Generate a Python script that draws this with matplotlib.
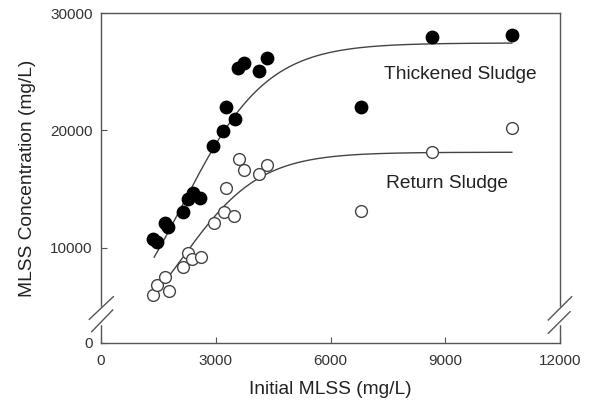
import numpy as np
import matplotlib
matplotlib.use("Agg")
import matplotlib.pyplot as plt

plt.rcParams['font.family'] = ['Liberation Sans', 'DejaVu Sans']

# --- data ---
thick_x = [1365, 1453, 1670, 1757, 2132, 2280, 2410, 2600, 2930, 3190,
           3260, 3500, 3585, 3730, 4130, 4350, 6800, 8660, 10740]
thick_y = [10740, 10540, 12150, 11810, 13060, 14140, 14650, 14230, 18710, 19980,
           22020, 21000, 25340, 25770, 25090, 26140, 22020, 27930, 28150]

return_x = [1365, 1453, 1670, 1775, 2150, 2280, 2385, 2610, 2950, 3220,
            3280, 3480, 3600, 3730, 4130, 4350, 6800, 8660, 10740]
return_y = [6000, 6850, 7560, 6340, 8410, 9600, 9040, 9210, 12100, 13040,
            15130, 12720, 17550, 16640, 16300, 17060, 13190, 18200, 20240]

# sigmoid fit parameters (a, x0, b) estimated from the drawn curves
thick_fit = (27450, 2140, 1100)
return_fit = (18150, 2110, 1020)
fit_range = (1390, 10740)

x_ticks = [0, 3000, 6000, 9000, 12000]
y_ticks = [1915, 10000, 20000, 30000]
y_ticklabels = ['0', '10000', '20000', '30000']


def sigmoid(x, p):
    a, x0, b = p
    return a / (1 + np.exp(-(x - x0) / b))


fig = plt.figure(figsize=(5.89, 4.09), dpi=100)
ax = fig.add_axes([0.1715, 0.1614, 0.7793, 0.8068])

xs = np.linspace(fit_range[0], fit_range[1], 300)
ax.plot(xs, sigmoid(xs, thick_fit), color='#444444', lw=1.0, zorder=2)
ax.plot(xs, sigmoid(xs, return_fit), color='#444444', lw=1.0, zorder=2)

ax.scatter(thick_x, thick_y, s=80, c='black', edgecolors='black', zorder=3)
ax.scatter(return_x, return_y, s=72, facecolors='white', edgecolors='#444444',
           linewidths=1.0, zorder=3)

ax.text(9400, 24800, 'Thickened Sludge', fontsize=13.8, ha='center', va='center', color='#222222')
ax.text(9050, 15500, 'Return Sludge', fontsize=13.8, ha='center', va='center', color='#222222')

ax.set_xlim(0, 12000)
ax.set_ylim(1915, 30000)
ax.set_xticks(x_ticks)
ax.set_yticks(y_ticks)
ax.set_yticklabels(y_ticklabels)
ax.tick_params(direction='in', length=4, width=0.8, color='#555555',
               labelsize=11, labelcolor='#333333', pad=6)
ax.tick_params(axis='x', pad=8)

for sp in ax.spines.values():
    sp.set_color('#555555')
    sp.set_linewidth(1.0)

ax.set_xlabel('Initial MLSS (mg/L)', fontsize=13.8, color='#222222', labelpad=9)
ax.set_ylabel('MLSS Concentration (mg/L)', fontsize=13.8, color='#222222', labelpad=10)

# axis break marks
for xa in (0.0, 1.0):
    ax.plot([xa, xa], [0.060, 0.105], transform=ax.transAxes, color='white',
            lw=2.5, clip_on=False, zorder=4)
for (x0, x1, y0, y1) in [(-0.0255, 0.0268, 0.0718, 0.1403), (-0.0203, 0.0255, 0.0342, 0.100),
                         (0.9745, 1.0254, 0.0697, 0.1403), (0.9745, 1.0218, 0.0294, 0.0948)]:
    ax.plot([x0, x1], [y0, y1], transform=ax.transAxes, color='#555555',
            lw=1.0, clip_on=False, zorder=5)

fig.savefig('out.png', dpi=100)
